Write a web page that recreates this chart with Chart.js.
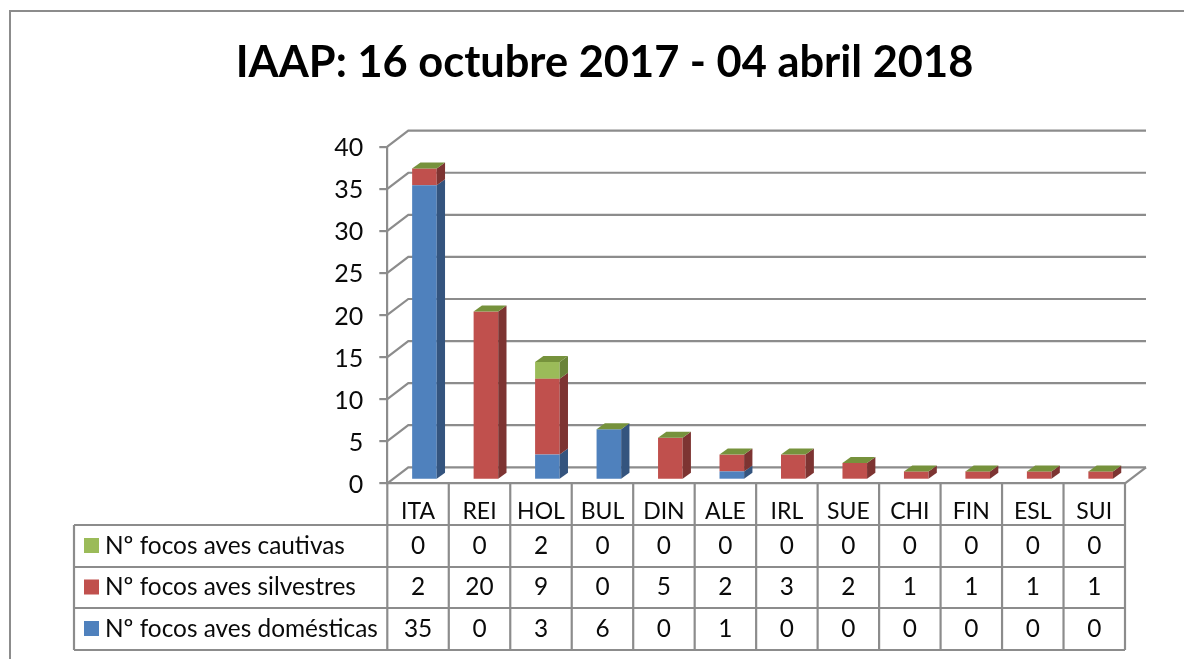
<!DOCTYPE html>
<html>
<head>
<meta charset="utf-8">
<title>IAAP</title>
<style>
  html, body { margin: 0; padding: 0; background: #fff; overflow: hidden; width: 1184px; height: 659px; }
  #wrap { position: absolute; left: 0; top: 0; width: 1209px; height: 680px; }
</style>
</head>
<body>
<div id="wrap"><canvas id="chart" width="1209" height="680"></canvas></div>
<script src="https://cdn.jsdelivr.net/npm/chart.js@4"></script>
<script>
const categories = ["ITA", "REI", "HOL", "BUL", "DIN", "ALE", "IRL", "SUE", "CHI", "FIN", "ESL", "SUI"];
const domesticas = [35, 0, 3, 6, 0, 1, 0, 0, 0, 0, 0, 0];
const silvestres = [2, 20, 9, 0, 5, 2, 3, 2, 1, 1, 1, 1];
const cautivas = [0, 0, 2, 0, 0, 0, 0, 0, 0, 0, 0, 0];

const titleText = "IAAP: 16 octubre 2017 - 04 abril 2018";
const lineGrey = "#8c8c8c";
const textColor = "#0a0a0a";
const fontName = "Lato";

// 3d look: how far the walls and the bars sit behind the front plane
const wall = { dx: 21, dy: 16 };
const barShift = { dx: 6.4, dy: 3.5 };
const barDepth = { dx: 8.3, dy: 6 };

const sideColors = ["#34547e", "#7d3432", "#6a8339"];
const topColor = "#76923c";

// table rows, top to bottom, as dataset indexes
const tableRows = [2, 1, 0];
const rowLines = [525, 567, 608, 650];
const tableLeft = 74;

const threeD = {
  id: "threeD",
  beforeDraw(chart) {
    let ctx = chart.ctx;
    ctx.save();
    ctx.fillStyle = "#fff";
    ctx.fillRect(0, 0, chart.width, chart.height);
    ctx.strokeStyle = lineGrey;
    ctx.lineWidth = 2;
    ctx.strokeRect(10, 11, 1400, 900);
    ctx.restore();
    drawTable(chart);
  },
  beforeDatasetsDraw(chart) {
    drawWalls(chart);
    chart.ctx.save();
    chart.ctx.translate(barShift.dx, -barShift.dy);
  },
  afterDatasetsDraw(chart) {
    drawBarSides(chart);
    chart.ctx.restore();
  }
};

function drawWalls(chart) {
  let ctx = chart.ctx;
  let x = chart.scales.x;
  let y = chart.scales.y;
  ctx.save();
  ctx.strokeStyle = lineGrey;
  ctx.lineWidth = 2.2;
  y.ticks.forEach(t => {
    let py = y.getPixelForValue(t.value);
    ctx.beginPath();
    ctx.moveTo(x.left, py);
    ctx.lineTo(x.left + wall.dx, py - wall.dy);
    ctx.lineTo(x.right + wall.dx, py - wall.dy);
    ctx.stroke();
  });
  // right end of the floor
  let floor = y.getPixelForValue(0);
  ctx.beginPath();
  ctx.moveTo(x.right + wall.dx, floor - wall.dy);
  ctx.lineTo(x.right, floor);
  ctx.stroke();
  ctx.restore();
}

function drawBarSides(chart) {
  let ctx = chart.ctx;
  let last = chart.data.datasets.length - 1;
  chart.data.datasets.forEach((ds, d) => {
    chart.getDatasetMeta(d).data.forEach(bar => {
      let right = bar.x + bar.width / 2;
      let left = bar.x - bar.width / 2;
      if (bar.base - bar.y > 0) {
        ctx.fillStyle = sideColors[d];
        ctx.beginPath();
        ctx.moveTo(right, bar.y);
        ctx.lineTo(right + barDepth.dx, bar.y - barDepth.dy);
        ctx.lineTo(right + barDepth.dx, bar.base - barDepth.dy);
        ctx.lineTo(right, bar.base);
        ctx.closePath();
        ctx.fill();
      }
      if (d === last) {
        ctx.fillStyle = topColor;
        ctx.beginPath();
        ctx.moveTo(left, bar.y);
        ctx.lineTo(left + barDepth.dx, bar.y - barDepth.dy);
        ctx.lineTo(right + barDepth.dx, bar.y - barDepth.dy);
        ctx.lineTo(right, bar.y);
        ctx.closePath();
        ctx.fill();
      }
    });
  });
}

function drawTable(chart) {
  let ctx = chart.ctx;
  let x = chart.scales.x;
  let step = x.width / categories.length;
  ctx.save();
  ctx.strokeStyle = lineGrey;
  ctx.lineWidth = 2.2;

  rowLines.forEach(ly => {
    ctx.beginPath();
    ctx.moveTo(tableLeft, ly);
    ctx.lineTo(x.right, ly);
    ctx.stroke();
  });
  ctx.beginPath();
  ctx.moveTo(tableLeft, rowLines[0]);
  ctx.lineTo(tableLeft, rowLines[3]);
  ctx.stroke();

  for (let i = 0; i <= categories.length; i++) {
    let lx = x.left + i * step;
    ctx.beginPath();
    ctx.moveTo(lx, x.top);
    ctx.lineTo(lx, rowLines[3]);
    ctx.stroke();
  }

  ctx.font = "24.4px " + fontName;
  ctx.textBaseline = "middle";
  tableRows.forEach((d, r) => {
    let ds = chart.data.datasets[d];
    let rowMid = (rowLines[r] + rowLines[r + 1]) / 2;

    ctx.fillStyle = ds.backgroundColor;
    ctx.fillRect(84, rowMid - 8, 15, 15);

    ctx.fillStyle = textColor;
    ctx.textAlign = "left";
    ctx.fillText(ds.label, 105, rowMid);

    ctx.textAlign = "center";
    ds.data.forEach((v, i) => {
      ctx.fillText(String(v), x.getPixelForValue(i), rowMid);
    });
  });
  ctx.restore();
}

new Chart(document.getElementById("chart"), {
  type: "bar",
  data: {
    labels: categories,
    datasets: [
      { label: "Nº focos aves domésticas", data: domesticas, backgroundColor: "#4f81bd" },
      { label: "Nº focos aves silvestres", data: silvestres, backgroundColor: "#c0504d" },
      { label: "Nº focos aves cautivas", data: cautivas, backgroundColor: "#9bbb59" }
    ]
  },
  options: {
    responsive: false,
    animation: false,
    clip: false,
    barPercentage: 0.4,
    categoryPercentage: 1,
    layout: { padding: { left: 84, right: 84, top: 0, bottom: 136.7 } },
    plugins: {
      legend: { display: false },
      tooltip: { enabled: false },
      title: {
        display: true,
        text: titleText,
        color: "#000",
        font: { family: fontName, size: 43.4, weight: "bold", lineHeight: 1.2 },
        padding: { top: 37, bottom: 57.6 }
      }
    },
    scales: {
      x: {
        stacked: true,
        afterFit(scale) { scale.height = 60; },
        grid: { display: false },
        border: { display: true, color: lineGrey, width: 2.2 },
        ticks: { color: textColor, padding: 6, maxRotation: 0, autoSkip: false, font: { family: fontName, size: 23 } }
      },
      y: {
        stacked: true,
        min: 0,
        max: 40,
        afterFit(scale) { scale.width = 303.3; },
        grid: { drawOnChartArea: false, color: lineGrey, lineWidth: 2.2, tickLength: 8 },
        border: { display: true, color: lineGrey, width: 2.2 },
        ticks: { stepSize: 5, color: textColor, padding: 16, labelOffset: 1.5, font: { family: fontName, size: 25 } }
      }
    }
  },
  plugins: [threeD]
});
</script>
</body>
</html>
